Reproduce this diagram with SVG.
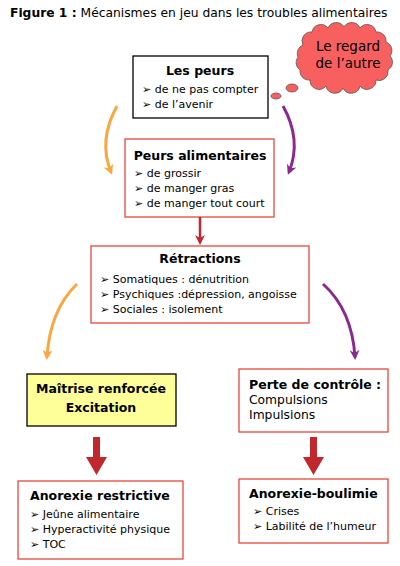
<svg xmlns="http://www.w3.org/2000/svg" width="400" height="566" viewBox="0 0 400 566">
<style>
text{font-family:"DejaVu Sans",Verdana,sans-serif;font-size:11px;fill:#000}
.b{font-weight:bold;font-size:12.5px}
.m{font-size:12.3px}
.box{fill:#fff;stroke:#e8473b;stroke-width:1.3}
.bk{fill:#fff;stroke:#000;stroke-width:1.3}
.arc{fill:none;stroke-width:3}
</style>
<defs>
<marker id="mo" markerWidth="10" markerHeight="10" refX="7" refY="5" orient="auto" markerUnits="userSpaceOnUse"><path d="M0,0 L10,5 L0,10 L3,5 z" fill="#f9a73e"/></marker>
<marker id="mp" markerWidth="10" markerHeight="10" refX="7" refY="5" orient="auto" markerUnits="userSpaceOnUse"><path d="M0,0 L10,5 L0,10 L3,5 z" fill="#8b2a8e"/></marker>
<marker id="mr" markerWidth="10" markerHeight="10" refX="7" refY="5" orient="auto" markerUnits="userSpaceOnUse"><path d="M0,0 L10,5 L0,10 L3,5 z" fill="#c0282d"/></marker>
</defs>
<text x="10" y="17" class="m"><tspan font-weight="bold">Figure 1 :</tspan> Mécanismes en jeu dans les troubles alimentaires</text>

<g id="cloud">
<path d="M303,45 A9,9 0 0 1 312,32 A9,9 0 0 1 328,28 A9,9 0 0 1 344,27 A9,9 0 0 1 360,28 A9,9 0 0 1 376,32 A9,9 0 0 1 386,42 A9,9 0 0 1 390,56 A9,9 0 0 1 388,70 A9,9 0 0 1 376,80 A9,9 0 0 1 360,86 A9,9 0 0 1 343,88 A9,9 0 0 1 326,86 A9,9 0 0 1 310,80 A9,9 0 0 1 300,70 A9,9 0 0 1 298,57 A9,9 0 0 1 303,45 Z" fill="#f86060" stroke="#555" stroke-width="0.8"/>
<ellipse cx="292" cy="88" rx="6" ry="4" fill="#f86060" stroke="#555" stroke-width="0.8"/>
<ellipse cx="276" cy="96" rx="5" ry="3" fill="#f86060" stroke="#555" stroke-width="0.8"/>
<text x="348" y="51" text-anchor="middle" style="font-size:13.5px">Le regard</text>
<text x="348" y="68" text-anchor="middle" style="font-size:13.5px">de l’autre</text>
</g>

<g id="peurs">
<rect class="bk" x="133" y="56" width="135" height="62"/>
<text class="b" x="200" y="75" text-anchor="middle">Les peurs</text>
<text x="142" y="93">➢ de ne pas compter</text>
<text x="142" y="108">➢ de l’avenir</text>
</g>

<g id="peurs-alim">
<rect class="box" x="125" y="139" width="149" height="78"/>
<text class="b" x="200" y="160" text-anchor="middle">Peurs alimentaires</text>
<text x="134" y="177">➢ de grossir</text>
<text x="134" y="192">➢ de manger gras</text>
<text x="134" y="207">➢ de manger tout court</text>
</g>

<g id="retractions">
<rect class="box" x="91" y="246" width="218" height="77"/>
<text class="b" x="200" y="263" text-anchor="middle">Rétractions</text>
<text x="100" y="283">➢ Somatiques : dénutrition</text>
<text x="100" y="298">➢ Psychiques :dépression, angoisse</text>
<text x="100" y="313">➢ Sociales : isolement</text>
</g>

<g id="maitrise">
<rect x="27" y="374" width="149" height="52" fill="#ffff99" stroke="#000" stroke-width="1.3"/>
<text class="b" x="101" y="393" text-anchor="middle">Maîtrise renforcée</text>
<text class="b" x="101" y="412" text-anchor="middle">Excitation</text>
</g>

<g id="perte">
<rect class="box" x="239" y="369" width="149" height="63"/>
<text class="b" x="249" y="389">Perte de contrôle :</text>
<text class="m" x="249" y="404">Compulsions</text>
<text class="m" x="249" y="419">Impulsions</text>
</g>

<g id="anorexie-restrictive">
<rect class="box" x="18" y="481" width="165" height="78"/>
<text class="b" x="30" y="500">Anorexie restrictive</text>
<text x="30" y="518">➢ Jeûne alimentaire</text>
<text x="30" y="533">➢ Hyperactivité physique</text>
<text x="30" y="548">➢ TOC</text>
</g>

<g id="anorexie-boulimie">
<rect class="box" x="239" y="479" width="149" height="64"/>
<text class="b" x="249" y="498">Anorexie-boulimie</text>
<text x="253" y="515">➢ Crises</text>
<text x="253" y="530">➢ Labilité de l’humeur</text>
</g>

<g id="connectors">
<path class="arc" d="M117,106 Q98,140 111,172" stroke="#f9a73e" marker-end="url(#mo)"/>
<path class="arc" d="M283,106 Q302,140 289,172" stroke="#8b2a8e" marker-end="url(#mp)"/>
<path d="M200,217 L200,242" stroke="#c0282d" stroke-width="2.5" fill="none" marker-end="url(#mr)"/>
<path class="arc" d="M77,284 Q50,310 47,357" stroke="#f9a73e" marker-end="url(#mo)"/>
<path class="arc" d="M323,284 Q352,310 355,357" stroke="#8b2a8e" marker-end="url(#mp)"/>
<path d="M93,437 L100,437 L100,457 L107,457 L96.5,475 L86,457 L93,457 Z" fill="#c0282d"/>
<path d="M310,437 L317,437 L317,457 L324,457 L313.5,475 L303,457 L310,457 Z" fill="#c0282d"/>
</g>
</svg>
